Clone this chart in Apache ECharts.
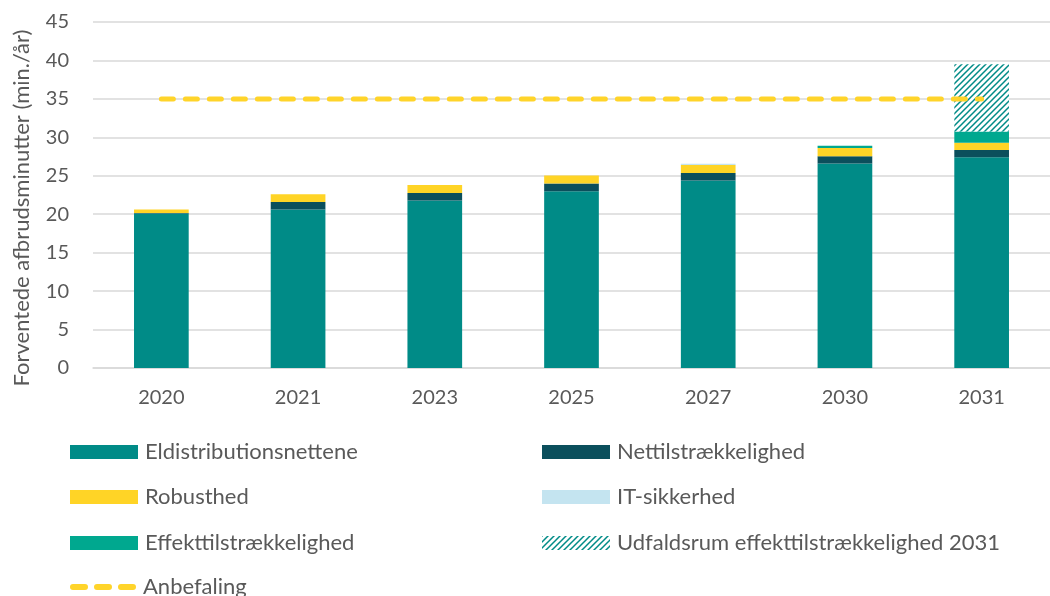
<!DOCTYPE html>
<html>
<head>
<meta charset="utf-8">
<script src="https://cdn.jsdelivr.net/npm/echarts@6/dist/echarts.min.js"></script>
<style>
  html, body { margin: 0; padding: 0; background: #fff; }
  #chart { width: 1050px; height: 596px; }
</style>
</head>
<body>
<div id="chart"></div>
<script>
var years = ['2020', '2021', '2023', '2025', '2027', '2030', '2031'];
var eldistribution = [20.1, 20.6, 21.8, 23.0, 24.4, 26.6, 27.4];
var nettilstraekkelighed = [0.05, 1.0, 0.95, 1.0, 0.95, 0.95, 0.95];
var robusthed = [0.45, 1.0, 1.05, 1.05, 1.05, 1.05, 0.95];
var itSikkerhed = [0, 0, 0, 0, 0.15, 0, 0];
var effekttilstraekkelighed = [0, 0, 0, 0, 0, 0.3, 1.45];
var udfaldsrum = [0, 0, 0, 0, 0, 0, 8.75];
var anbefaling = [35, 35, 35, 35, 35, 35, 35];

var fontName = 'Lato, "Liberation Sans", sans-serif';
var textColor = '#595959';

// hatch pattern for the 2031 range
var hatch = document.createElement('canvas');
hatch.width = 6;
hatch.height = 6;
var ctx = hatch.getContext('2d');
ctx.fillStyle = '#ffffff';
ctx.fillRect(0, 0, 6, 6);
ctx.strokeStyle = '#008b87';
ctx.lineWidth = 1.5;
ctx.beginPath();
ctx.moveTo(0, 6); ctx.lineTo(6, 0);
ctx.moveTo(-1, 1); ctx.lineTo(1, -1);
ctx.moveTo(5, 7); ctx.lineTo(7, 5);
ctx.stroke();

// three rounded dashes for the recommendation legend
var dashIcon = 'path://M3,0h12a3,3 0 0 1 0,6h-12a3,3 0 0 1 0,-6z' +
    'M27,0h12a3,3 0 0 1 0,6h-12a3,3 0 0 1 0,-6z' +
    'M51,0h12a3,3 0 0 1 0,6h-12a3,3 0 0 1 0,-6z';

var myChart = echarts.init(document.getElementById('chart'), null, { renderer: 'canvas' });

function legendAt(name, left, top, icon, w, h) {
    return {
        data: [{ name: name, icon: icon || 'rect' }],
        left: left,
        top: top,
        padding: 0,
        itemWidth: w || 68,
        itemHeight: h || 14,
        selectedMode: false,
        textStyle: {
            fontFamily: fontName, fontSize: 22, lineHeight: 22,
            color: textColor, padding: [0, 0, 0, 2]
        }
    };
}

var option = {
    animation: false,
    grid: {
        left: 93,
        top: 22,
        width: 968,
        height: 346
    },
    legend: [
        legendAt('Eldistributionsnettene', 70, 441),
        legendAt('Nettilstrækkelighed', 542, 441),
        legendAt('Robusthed', 70, 486),
        legendAt('IT-sikkerhed', 542, 486),
        legendAt('Effekttilstrækkelighed', 70, 532),
        legendAt('Udfaldsrum effekttilstrækkelighed 2031', 542, 532),
        legendAt('Anbefaling', 70, 576, dashIcon, 66, 6)
    ],
    xAxis: {
        type: 'category',
        data: years,
        axisTick: { show: false },
        axisLine: { lineStyle: { color: '#d9d9d9', width: 1.5 } },
        axisLabel: { fontFamily: fontName, fontSize: 20, color: textColor, margin: 20 }
    },
    yAxis: {
        type: 'value',
        min: 0,
        max: 45,
        interval: 5,
        axisLine: { show: false },
        axisTick: { show: false },
        splitLine: { lineStyle: { color: '#d9d9d9', width: 1.5 } },
        axisLabel: { fontFamily: fontName, fontSize: 20, color: textColor, margin: 24 }
    },
    graphic: [{
        type: 'text',
        x: 22,
        y: 208,
        rotation: Math.PI / 2,
        style: {
            text: 'Forventede afbrudsminutter (min./år)',
            fontFamily: fontName,
            fontSize: 22,
            fill: textColor,
            align: 'center',
            verticalAlign: 'middle'
        }
    }],
    series: [
        {
            name: 'Eldistributionsnettene',
            type: 'bar',
            stack: 'total',
            barWidth: '40%',
            itemStyle: { color: '#008b87' },
            data: eldistribution
        },
        {
            name: 'Nettilstrækkelighed',
            type: 'bar',
            stack: 'total',
            itemStyle: { color: '#0b4f5c' },
            data: nettilstraekkelighed
        },
        {
            name: 'Robusthed',
            type: 'bar',
            stack: 'total',
            itemStyle: { color: '#ffd426' },
            data: robusthed
        },
        {
            name: 'IT-sikkerhed',
            type: 'bar',
            stack: 'total',
            itemStyle: { color: '#c4e4f0' },
            data: itSikkerhed
        },
        {
            name: 'Effekttilstrækkelighed',
            type: 'bar',
            stack: 'total',
            itemStyle: { color: '#00a88f' },
            data: effekttilstraekkelighed
        },
        {
            name: 'Udfaldsrum effekttilstrækkelighed 2031',
            type: 'bar',
            stack: 'total',
            itemStyle: { color: { image: hatch, repeat: 'repeat' } },
            data: udfaldsrum
        },
        {
            name: 'Anbefaling',
            type: 'line',
            symbol: 'none',
            z: 5,
            lineStyle: { color: '#ffd42a', width: 5, type: [12, 12], cap: 'round' },
            itemStyle: { color: '#ffd42a' },
            data: anbefaling
        }
    ]
};

myChart.setOption(option, true);
</script>
</body>
</html>
